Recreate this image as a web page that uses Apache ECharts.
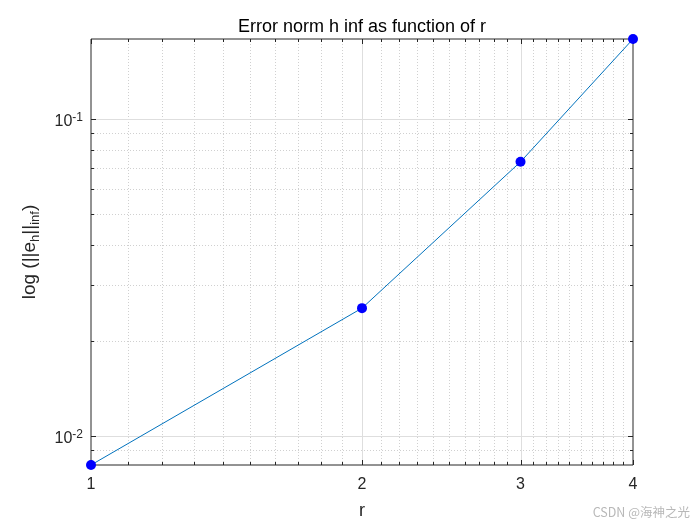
<!DOCTYPE html>
<html><head><meta charset="utf-8">
<script src="https://cdn.jsdelivr.net/npm/echarts@6/dist/echarts.min.js"></script>
<style>html,body{margin:0;padding:0;background:#fff}#c{width:700px;height:525px}</style>
</head><body><div id="c"></div>
<script>
// ---- data ----
const r = [1, 2, 3, 4];
const errInf = [0.0081, 0.0253, 0.0732, 0.1786];
// axis ranges
const xMin = 1, xMax = 4;
const yMin = 0.0081, yMax = 0.1786;
// ticks
const xMajorTicks = [1, 2, 3, 4];
const xMajorLabels = ['1', '2', '3', '4'];
const xMinorTicks = [1.1, 1.2, 1.3, 1.4, 1.5, 1.6, 1.7, 1.8, 1.9,
                     2.1, 2.2, 2.3, 2.4, 2.5, 2.6, 2.7, 2.8, 2.9,
                     3.1, 3.2, 3.3, 3.4, 3.5, 3.6, 3.7, 3.8, 3.9];
const yMajorTicks = [0.01, 0.1];
const yMajorExp = ['-2', '-1'];
const yMinorTicks = [0.009, 0.02, 0.03, 0.04, 0.05, 0.06, 0.07, 0.08, 0.09];

const FONT = '"Liberation Sans", Arial, Helvetica, sans-serif';
const AX = '#262626';
const chart = echarts.init(document.getElementById('c'), null, {renderer: 'canvas'});

function px(v) { return Math.round(v) + 0.5; }

function xGridItem(idx, api) {
  const x = api.value(0);
  const major = api.value(2) === 1;
  const p0 = api.coord([x, yMin]);
  const p1 = api.coord([x, yMax]);
  const X = px(p0[0]);
  const yb = Math.round(p0[1]), yt = Math.round(p1[1]);
  const tl = major ? 5 : 3;
  const ch = [];
  if (x > xMin && x < xMax) {
    ch.push({type: 'line', shape: {x1: X, y1: yb, x2: X, y2: yt},
      style: major ? {stroke: '#dedede', lineWidth: 1}
                   : {stroke: '#d0d0d0', lineWidth: 1, lineDash: [1, 2]}});
  }
  ch.push({type: 'line', shape: {x1: X, y1: yb, x2: X, y2: yb - tl}, style: {stroke: AX, lineWidth: 1}});
  ch.push({type: 'line', shape: {x1: X, y1: yt, x2: X, y2: yt + tl}, style: {stroke: AX, lineWidth: 1}});
  if (major) {
    ch.push({type: 'text', style: {text: xMajorLabels[idx], x: p0[0], y: yb + 12,
      align: 'center', verticalAlign: 'top', fill: AX, font: '16px ' + FONT}});
  }
  return {type: 'group', children: ch};
}

function yGridItem(idx, api) {
  const y = api.value(1);
  const major = api.value(2) === 1;
  const p0 = api.coord([xMin, y]);
  const p1 = api.coord([xMax, y]);
  const Y = px(p0[1]);
  const xl = Math.round(p0[0]), xr = Math.round(p1[0]);
  const tl = major ? 5 : 3;
  const ch = [];
  if (y > yMin && y < yMax) {
    ch.push({type: 'line', shape: {x1: xl, y1: Y, x2: xr, y2: Y},
      style: major ? {stroke: '#dedede', lineWidth: 1}
                   : {stroke: '#d0d0d0', lineWidth: 1, lineDash: [1, 2]}});
  }
  ch.push({type: 'line', shape: {x1: xl, y1: Y, x2: xl + tl, y2: Y}, style: {stroke: AX, lineWidth: 1}});
  ch.push({type: 'line', shape: {x1: xr, y1: Y, x2: xr - tl, y2: Y}, style: {stroke: AX, lineWidth: 1}});
  if (major) {
    ch.push({type: 'text', style: {
      text: '{b|10}{s|' + yMajorExp[idx] + '}',
      x: xl - 8, y: p0[1] + 3, align: 'right', verticalAlign: 'middle',
      rich: {
        b: {fontSize: 16, fontFamily: FONT, fill: AX, color: AX, lineHeight: 20, verticalAlign: 'middle'},
        s: {fontSize: 12, fontFamily: FONT, fill: AX, color: AX, lineHeight: 12, verticalAlign: 'top'}
      }}});
  }
  return {type: 'group', children: ch};
}

const xGridData = xMinorTicks.map(v => [v, yMin, 0]).concat(xMajorTicks.map(v => [v, yMin, 1]));
const yGridData = yMinorTicks.map(v => [xMin, v, 0]).concat(yMajorTicks.map(v => [xMin, v, 1]));
const xMinorCount = xMinorTicks.length, yMinorCount = yMinorTicks.length;

chart.setOption({
  animation: false,
  backgroundColor: '#fff',
  title: {
    text: 'Error norm h inf as function of r',
    left: 357, top: 13, textAlign: 'center',
    textStyle: {fontFamily: FONT, fontSize: 18, fontWeight: 'normal', color: '#000'}
  },
  grid: {left: 91, right: 67, top: 39, bottom: 59, show: true,
         borderColor: AX, borderWidth: 1, backgroundColor: '#fff'},
  xAxis: {
    type: 'log', logBase: 10, min: xMin, max: xMax,
    name: 'r', nameLocation: 'middle', nameGap: 37,
    nameTextStyle: {fontFamily: FONT, fontSize: 18, color: AX},
    axisLine: {show: false}, axisTick: {show: false}, axisLabel: {show: false},
    splitLine: {show: false}
  },
  yAxis: {
    type: 'log', logBase: 10, min: yMin, max: yMax,
    name: '{n|log (||e}{sub|h}{n|||}{sub|inf}{n|)}',
    nameLocation: 'middle', nameGap: 49, nameRotate: 90,
    nameTextStyle: {
      rich: {
        n: {fontFamily: FONT, fontSize: 19, color: AX, lineHeight: 24, verticalAlign: 'middle'},
        sub: {fontFamily: FONT, fontSize: 13, color: AX, lineHeight: 13, verticalAlign: 'bottom'}
      }
    },
    axisLine: {show: false}, axisTick: {show: false}, axisLabel: {show: false},
    splitLine: {show: false}
  },
  graphic: [{
    type: 'text', right: 10, bottom: 6,
    style: {text: 'CSDN @海神之光', fill: '#b8b8b8',
            font: '12.5px "Noto Sans CJK SC", ' + FONT}
  }],
  series: [
    {
      type: 'custom', z: 1, silent: true, clip: false,
      renderItem: function (params, api) {
        return xGridItem(params.dataIndex - xMinorCount, api);
      },
      data: xGridData
    },
    {
      type: 'custom', z: 1, silent: true, clip: false,
      renderItem: function (params, api) {
        return yGridItem(params.dataIndex - yMinorCount, api);
      },
      data: yGridData
    },
    {
      type: 'line', z: 5,
      data: r.map((v, i) => [v, errInf[i]]),
      lineStyle: {color: '#0072bd', width: 1},
      itemStyle: {color: '#0000ff', borderWidth: 0},
      symbol: 'circle', symbolSize: 10, showSymbol: true
    }
  ]
});
</script>
</body></html>
